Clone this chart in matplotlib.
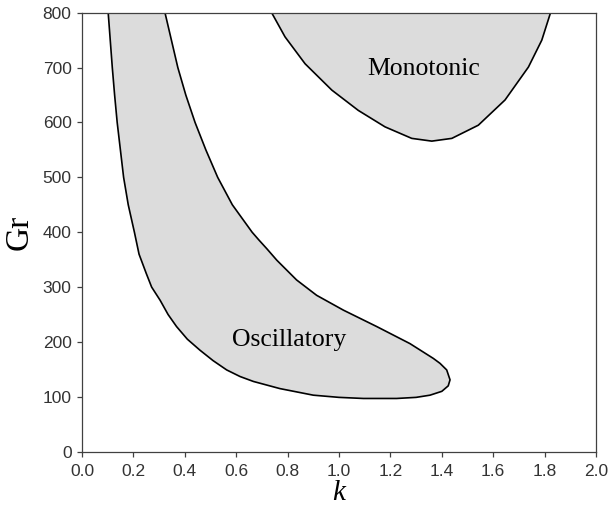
import numpy as np
import matplotlib
matplotlib.use("Agg")
import matplotlib.pyplot as plt

# Oscillatory region boundary (k, Gr), traced from top-left, round the tip, back to top
osc_k = [0.102, 0.110, 0.118, 0.127, 0.137, 0.152, 0.162, 0.180, 0.204, 0.222,
         0.250, 0.271, 0.304, 0.335, 0.368, 0.410, 0.459, 0.510, 0.563, 0.615,
         0.667, 0.770, 0.900, 1.000, 1.095, 1.224, 1.300, 1.354, 1.400, 1.425,
         1.432, 1.419, 1.393, 1.367, 1.276, 1.147, 1.017, 0.913, 0.835, 0.758,
         0.719, 0.688, 0.662, 0.585, 0.528, 0.482, 0.440, 0.404, 0.373, 0.348,
         0.323]
osc_gr = [800, 750, 700, 650, 600, 540, 500, 450, 400, 360,
          325, 300, 276, 250, 228, 205, 185, 166, 149, 137,
          128, 115, 103, 99, 97, 97, 99, 103, 110, 120,
          131, 149, 161, 170, 197, 228, 258, 285, 313, 349,
          370, 386, 400, 450, 500, 550, 600, 650, 700, 750,
          800]

# Monotonic region boundary
mono_k = [0.738, 0.790, 0.868, 0.972, 1.075, 1.179, 1.283, 1.361, 1.439, 1.542,
          1.646, 1.737, 1.789, 1.823]
mono_gr = [800, 756, 707, 659, 622, 592, 571, 566, 571, 595,
           641, 701, 750, 800]

xticks = [0.0, 0.2, 0.4, 0.6, 0.8, 1.0, 1.2, 1.4, 1.6, 1.8, 2.0]
yticks = [0, 100, 200, 300, 400, 500, 600, 700, 800]

fig = plt.figure(figsize=(6.09, 5.13), dpi=100)
ax = fig.add_axes([0.1346, 0.1195, 0.8441, 0.8557])

fill_c = "#dcdcdc"
for kk, gg in [(osc_k, osc_gr), (mono_k, mono_gr)]:
    ax.fill(kk, gg, color=fill_c, lw=0, zorder=1)
    ax.plot(kk, gg, color="black", lw=1.2, zorder=2, solid_joinstyle="round")

ax.text(0.806, 203, "Oscillatory", family="Liberation Serif", fontsize=18.5,
        ha="center", va="center")
ax.text(1.328, 698, "Monotonic", family="Liberation Serif", fontsize=18.5,
        ha="center", va="center")

ax.set_xlim(0, 2.0)
ax.set_ylim(0, 800)
ax.set_xticks(xticks)
ax.set_xticklabels([f"{t:.1f}" for t in xticks])
ax.set_yticks(yticks)

for sp in ax.spines.values():
    sp.set_color("#404040")
    sp.set_linewidth(0.9)

ax.tick_params(direction="out", length=3.5, width=0.9, color="#404040",
               labelsize=12.5, labelcolor="#333333")
ax.tick_params(axis="x", pad=5)
ax.tick_params(axis="y", pad=4)
for lab in ax.get_xticklabels() + ax.get_yticklabels():
    lab.set_family("Liberation Sans")

ax.set_xlabel("k", family="Liberation Serif", style="italic", fontsize=21,
              labelpad=1)
ax.set_ylabel("Gr", family="Liberation Serif", fontsize=24, labelpad=6)

fig.savefig("out.png", dpi=100)
